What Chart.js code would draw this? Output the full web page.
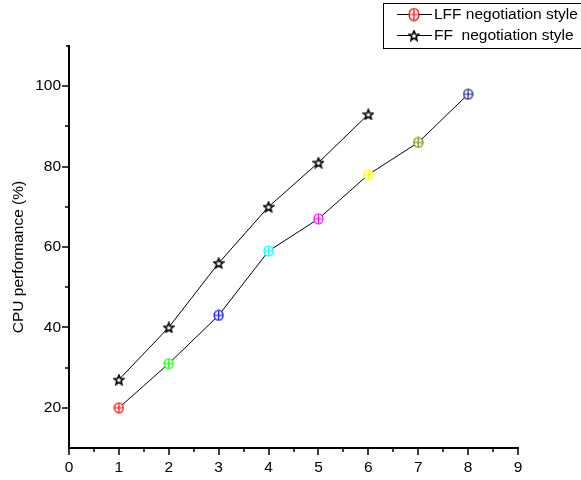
<!DOCTYPE html>
<html>
<head>
<meta charset="utf-8">
<script src="https://cdn.jsdelivr.net/npm/chart.js@4.4.0/dist/chart.umd.min.js"></script>
<style>
  html, body { margin: 0; padding: 0; background: #fff; }
</style>
</head>
<body>
<canvas id="chart" width="581" height="480"></canvas>
<script>
// data
const lffLevels = [1, 2, 3, 4, 5, 6, 7, 8];
const lffValues = [20, 31, 43, 59, 67, 78, 86, 98];
const ffLevels = [1, 2, 3, 4, 5, 6];
const ffValues = [27, 40, 56, 70, 81, 93];
const lffColors = ["#ff0000", "#00ff00", "#0000ff", "#00ffff", "#ff00ff", "#ffff00", "#808000", "#1a1a90"];
const seriesNames = ["LFF negotiation style", "FF  negotiation style"];
const yTitle = "CPU performance (%)";
const yLabels = [20, 40, 60, 80, 100];

const FONT = "'Liberation Sans', Arial, sans-serif";
const FSIZE = 15.5;

function circlePlus(color, w, h) {
  const c = document.createElement("canvas");
  c.width = w + 2; c.height = h + 2;
  const g = c.getContext("2d");
  const cx = c.width / 2, cy = c.height / 2;
  g.fillStyle = "#fff";
  g.strokeStyle = color;
  g.lineWidth = 1.2;
  g.beginPath();
  g.ellipse(cx, cy, w / 2, h / 2, 0, 0, Math.PI * 2);
  g.fill();
  g.stroke();
  g.beginPath();
  g.moveTo(cx, cy - h / 2); g.lineTo(cx, cy + h / 2);
  g.moveTo(cx - w / 2, cy); g.lineTo(cx + w / 2, cy);
  g.stroke();
  return c;
}

function star(size) {
  const c = document.createElement("canvas");
  c.width = size + 2; c.height = size + 2;
  const g = c.getContext("2d");
  const cx = c.width / 2, cy = c.height / 2 + 0.5;
  const ro = size / 2, ri = ro * 0.45;
  g.beginPath();
  for (let i = 0; i < 10; i++) {
    const r = i % 2 ? ri : ro;
    const a = -Math.PI / 2 + i * Math.PI / 5;
    const px = cx + r * Math.cos(a), py = cy + r * Math.sin(a);
    if (i === 0) g.moveTo(px, py); else g.lineTo(px, py);
  }
  g.closePath();
  g.fillStyle = "#fff";
  g.fill();
  g.strokeStyle = "#000";
  g.lineWidth = 1.6;
  g.stroke();
  return c;
}

const lffMarks = lffColors.map(c => circlePlus(c, 9, 10));
const ffMark = star(10);

// axis ticks (major + minor), y title and the boxed legend
const decor = {
  id: "decor",
  afterDraw(chart) {
    const { ctx, scales: { x, y } } = chart;
    ctx.save();
    ctx.strokeStyle = "#000";
    ctx.lineWidth = 1.5;
    ctx.beginPath();
    for (let v = 0; v <= 9; v += 0.5) {
      const px = Math.round(x.getPixelForValue(v));
      const len = v % 1 === 0 ? 7 : 4;
      ctx.moveTo(px, x.top);
      ctx.lineTo(px, x.top + len);
    }
    for (let v = 20; v <= 110; v += 10) {
      const py = Math.round(y.getPixelForValue(v));
      const len = v === 110 ? 3 : (v % 20 === 0 ? 7 : 4);
      ctx.moveTo(y.right, py);
      ctx.lineTo(y.right - len, py);
    }
    ctx.stroke();

    // y title
    ctx.fillStyle = "#000";
    ctx.font = FSIZE + "px " + FONT;
    ctx.textAlign = "center";
    ctx.textBaseline = "middle";
    ctx.translate(19, 257);
    ctx.rotate(-Math.PI / 2);
    ctx.fillText(yTitle, 0, 0);
    ctx.setTransform(1, 0, 0, 1, 0, 0);

    // legend
    ctx.lineWidth = 1;
    ctx.strokeRect(383.5, 3.5, 260, 45);
    const rows = [14, 35];
    const marks = [circlePlus("#ff0000", 10, 12), star(10)];
    rows.forEach((ry, i) => {
      ctx.beginPath();
      ctx.moveTo(397, ry + 0.5);
      ctx.lineTo(432, ry + 0.5);
      ctx.stroke();
      const m = marks[i];
      ctx.drawImage(m, 414 - m.width / 2, ry - m.height / 2 + 0.5);
      ctx.textAlign = "left";
      ctx.textBaseline = "middle";
      ctx.fillText(seriesNames[i], 434, ry + 1);
    });
    ctx.restore();
  }
};

new Chart(document.getElementById("chart"), {
  type: "line",
  data: {
    datasets: [
      {
        label: seriesNames[0],
        data: lffLevels.map((l, i) => ({ x: l, y: lffValues[i] })),
        borderColor: "#000",
        borderWidth: 1,
        pointStyle: ctx => lffMarks[ctx.dataIndex],
        pointRadius: 5,
        tension: 0
      },
      {
        label: seriesNames[1],
        data: ffLevels.map((l, i) => ({ x: l, y: ffValues[i] })),
        borderColor: "#000",
        borderWidth: 1,
        pointStyle: ffMark,
        pointRadius: 5,
        tension: 0
      }
    ]
  },
  plugins: [decor],
  options: {
    responsive: false,
    animation: false,
    events: [],
    layout: { padding: { left: 0, top: 46, right: 63, bottom: 0 } },
    plugins: { legend: { display: false }, tooltip: { enabled: false } },
    scales: {
      x: {
        type: "linear",
        min: 0,
        max: 9,
        grid: { display: false, tickLength: 7 },
        border: { display: true, color: "#000", width: 2 },
        ticks: {
          stepSize: 1,
          padding: 3,
          color: "#000",
          font: { family: FONT, size: FSIZE },
          maxRotation: 0
        },
        afterFit: s => { s.height = 32; }
      },
      y: {
        type: "linear",
        min: 10,
        max: 110,
        grid: { display: false, tickLength: 7 },
        border: { display: true, color: "#000", width: 2 },
        ticks: {
          stepSize: 10,
          padding: 1,
          color: "#000",
          font: { family: FONT, size: FSIZE },
          callback: v => yLabels.includes(v) ? String(v) : ""
        },
        afterFit: s => { s.width = 69; }
      }
    }
  }
});
</script>
</body>
</html>
